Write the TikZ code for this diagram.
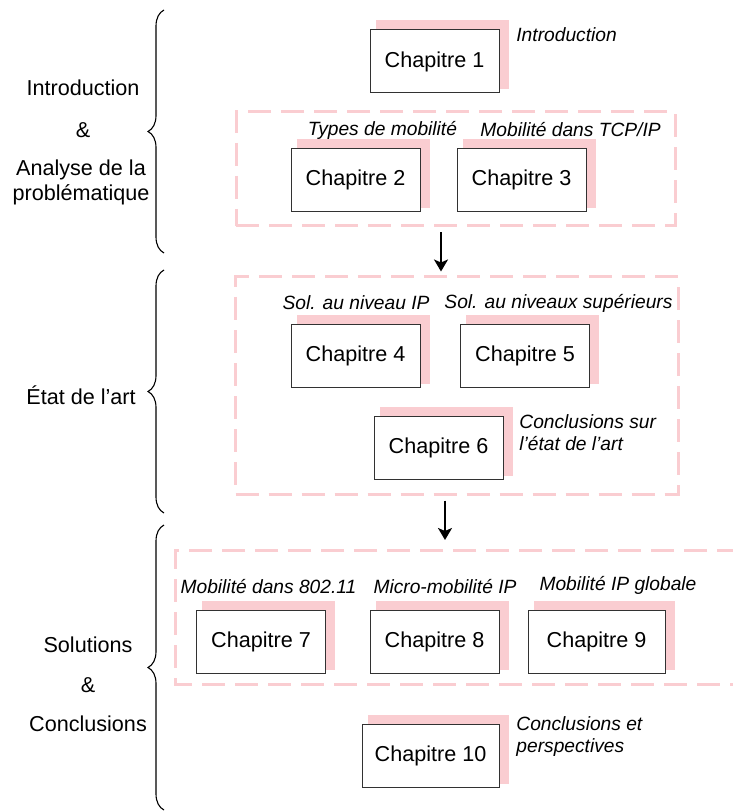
\documentclass[tikz,border=0pt]{standalone}
\usepackage{fontspec}
\setmainfont{Liberation Sans}
\usepackage{tikz}
\usetikzlibrary{calc}
\usetikzlibrary{arrows.meta}
\usetikzlibrary{backgrounds}
\usetikzlibrary{decorations.pathreplacing}
\definecolor{chpink}{RGB}{250,205,209}
\definecolor{chgray}{RGB}{50,50,50}
\tikzstyle{every node}=[font=\fontsize{10.8}{13}\selectfont]
\tikzstyle{chap}=[draw=chgray,fill=white,line width=0.5pt,minimum width=64.5pt,minimum height=31.5pt,inner sep=0pt]
\tikzstyle{theme}=[font=\fontsize{9.6}{11}\selectfont\itshape,inner sep=0pt]
\tikzstyle{part}=[inner sep=0pt]
\tikzstyle{frame}=[draw=chpink,line width=1.5pt,dash pattern=on 11.5pt off 5pt,inner sep=0pt]
\tikzstyle{flow}=[line width=1pt,-{Stealth[length=6pt,width=7pt,inset=1.5pt]}]
\tikzstyle{part brace}=[decorate,decoration={brace,amplitude=8pt},line width=0.55pt]

\begin{document}
\begin{tikzpicture}[x=0.5pt,y=-0.5pt]
\useasboundingbox (0,0) rectangle (732,812);
% chapters
\node[chap] (ch1) at (434.5,61.5) {Chapitre 1};
\node[chap] (ch2) at (355.5,180) {Chapitre 2};
\node[chap] (ch3) at (521.5,180) {Chapitre 3};
\node[chap] (ch4) at (355.5,356) {Chapitre 4};
\node[chap] (ch5) at (525,356) {Chapitre 5};
\node[chap] (ch6) at (438.5,448) {Chapitre 6};
\node[chap] (ch7) at (261,641.5) {Chapitre 7};
\node[chap] (ch8) at (434.5,641.5) {Chapitre 8};
\node[chap,minimum width=68.5pt] (ch9) at (596.5,641.5) {Chapitre 9};
\node[chap,minimum width=68.5pt] (ch10) at (430.5,755.5) {Chapitre 10};
% themes
\node[theme,anchor=west] (th1) at (516,35) {Introduction};
\node[theme] (th2) at (382.5,130) {Types de mobilité};
\node[theme,anchor=west] (th3) at (480,130) {Mobilité dans TCP/IP};
\node[theme] (th4) at (356,303) {Sol. au niveau IP};
\node[theme] (th5) at (558.5,303) {Sol. au niveaux supérieurs};
\node[theme,anchor=west,align=left] (th6) at (519,433) {Conclusions sur\\l’état de l’art};
\node[theme] (th7) at (268.5,587) {Mobilité dans 802.11};
\node[theme] (th8) at (445,587) {Micro-mobilité IP};
\node[theme] (th9) at (618,585) {Mobilité IP globale};
\node[theme,anchor=west,align=left] (th10) at (516,737) {Conclusions et\\perspectives};
% frames
\node[frame,minimum width=219.5pt,minimum height=57pt] (fr1) at (455.5,169) {};
\node[frame,minimum width=221.25pt,minimum height=108.5pt] (fr2) at (456.75,385.5) {};
\draw[frame] (740,550) -| (175,684) -- (740,684);
\coordinate (fr3) at (445,550);
\coordinate (a1) at (441,0);
\draw[flow] ($(fr1.south -| a1)+(0,5)$) -- ($(fr2.north -| a1)+(0,-4)$);
\draw[flow] ($(fr2.south -| fr3)+(0,5)$) -- ($(fr3)+(0,-10)$);
% parts
\node[part] (p1a) at (83,88) {Introduction};
\node[part] (p1b) at (83,130) {\&};
\node[part] (p1c) at (81,170) {Analyse de la};
\node[part] (p1d) at (81,195) {problématique};
\node[part] (p2) at (81,395) {État de l’art};
\node[part] (p3a) at (88,645) {Solutions};
\node[part] (p3b) at (88,685) {\&};
\node[part] (p3c) at (88,724) {Conclusions};
\draw[part brace] (164,253) -- (164,10);
\draw[part brace] (164,513) -- (164,270);
\draw[part brace] (164,810) -- (164,525);
% shadows
\begin{scope}[on background layer]
\fill[white] (0,0) rectangle (732,812);
\foreach \c in {ch1,ch2,ch3,ch4,ch5,ch6,ch7,ch8,ch9,ch10}
  \fill[chpink] ($(\c.north west)+(6,-9)$) rectangle ($(\c.south east)+(9,-4)$);
\end{scope}
\end{tikzpicture}
\end{document}
